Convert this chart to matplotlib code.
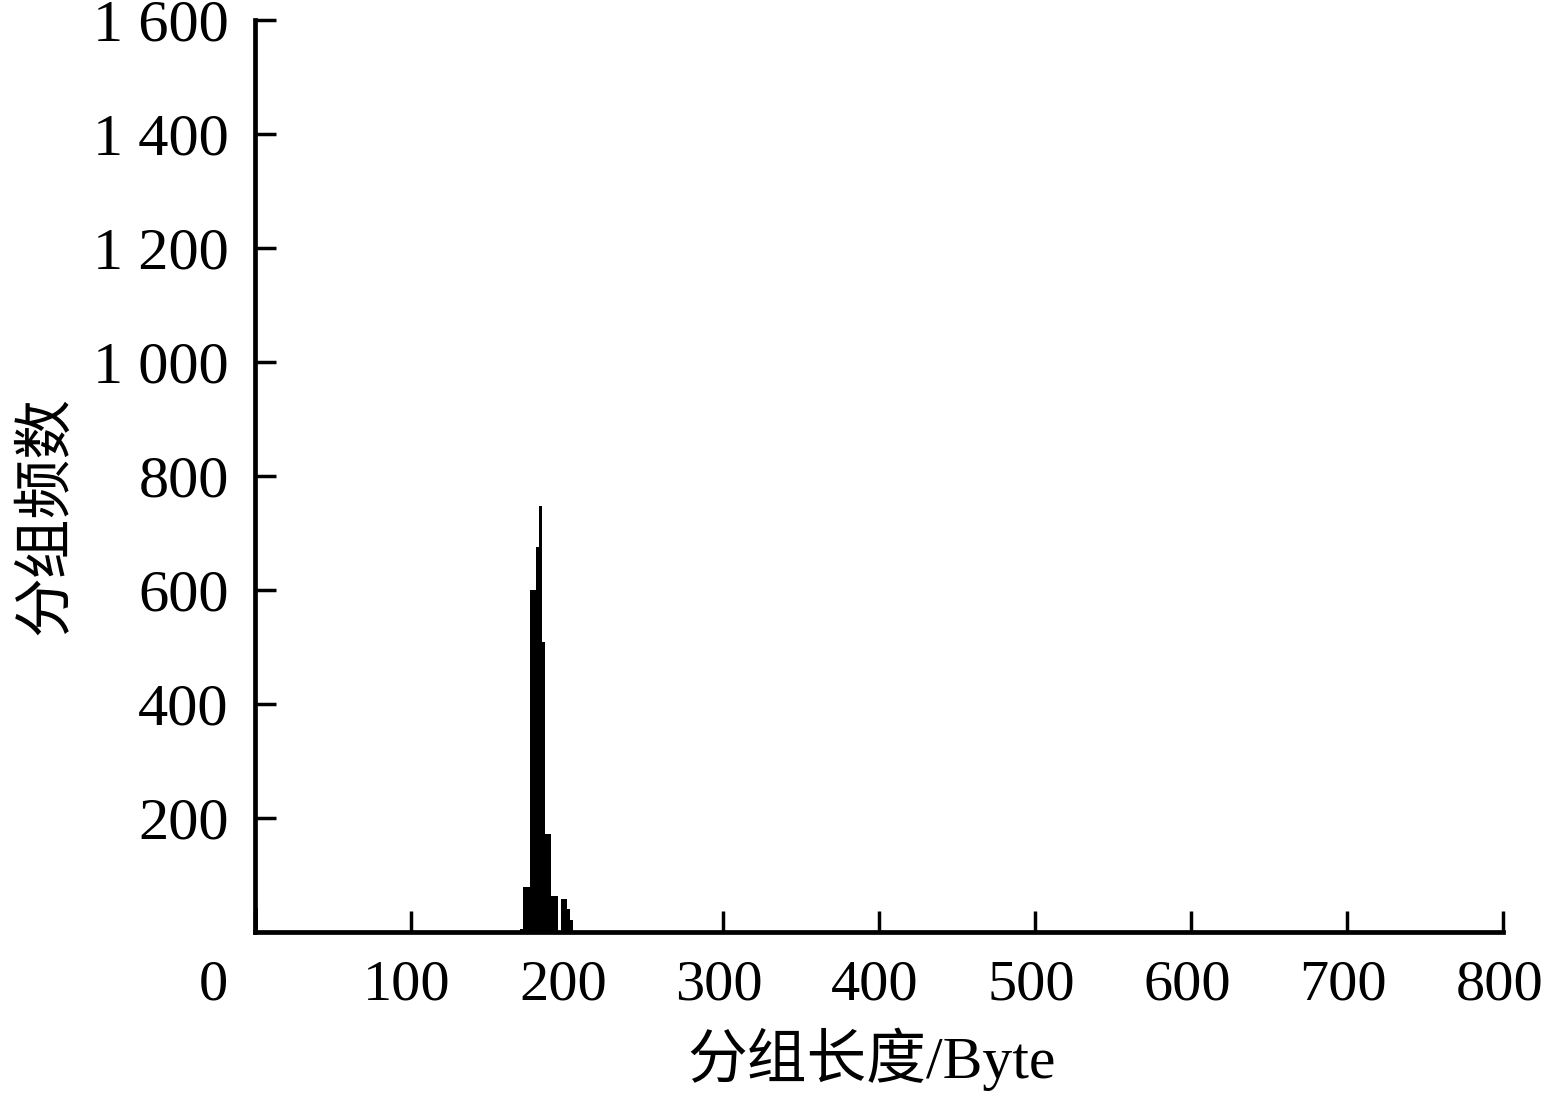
import matplotlib
matplotlib.use('Agg')
import matplotlib.pyplot as plt
import matplotlib.transforms as mtrans

# packet length histogram, bins of 2 bytes (left edges)
lengths = [0, 170, 172, 174, 176, 178, 180, 182, 184, 186, 188, 190, 192, 196, 198, 200, 202]
counts = [42, 5, 79, 79, 600, 600, 675, 747, 509, 172, 172, 63, 63, 58, 58, 40, 21]

x_ticks = [0, 100, 200, 300, 400, 500, 600, 700, 800]
y_ticks = [200, 400, 600, 800, 1000, 1200, 1400, 1600]
y_labels = ['200', '400', '600', '800', '1 000', '1 200', '1 400', '1 600']

fam = ['Liberation Serif', 'Noto Sans CJK SC']
plt.rcParams['font.family'] = fam

fig = plt.figure(figsize=(15.56, 11.03), dpi=100)
ax = fig.add_axes([0.1639, 0.155, 0.8022, 0.827])

ax.bar(lengths, counts, width=2, align='edge', color='black', linewidth=0)

ax.set_xlim(0, 800)
ax.set_ylim(0, 1600)
ax.set_xticks(x_ticks)
ax.set_xticklabels([str(v) for v in x_ticks])
ax.set_yticks(y_ticks)
ax.set_yticklabels(y_labels)

for s in ['top', 'right']:
    ax.spines[s].set_visible(False)
for s in ['left', 'bottom']:
    ax.spines[s].set_linewidth(3.4)

ax.tick_params(axis='both', direction='in', length=15, width=2.5)
ax.tick_params(axis='x', pad=20, labelsize=42)
ax.tick_params(axis='y', pad=19, labelsize=43.5)

# x labels sit a little left of their ticks, the origin "0" well left
for i, lab in enumerate(ax.get_xticklabels()):
    dx = -42 if i == 0 else -4
    lab.set_transform(lab.get_transform() + mtrans.ScaledTranslation(dx / 100, 0, fig.dpi_scale_trans))

ax.set_xlabel('分组长度/Byte', fontsize=43)
ax.xaxis.set_label_coords(0.494, -0.105)
ax.set_ylabel('分组频数', fontsize=43)
ax.yaxis.set_label_coords(-0.144, 0.457)

fig.savefig('out.png', dpi=100, facecolor='white')
